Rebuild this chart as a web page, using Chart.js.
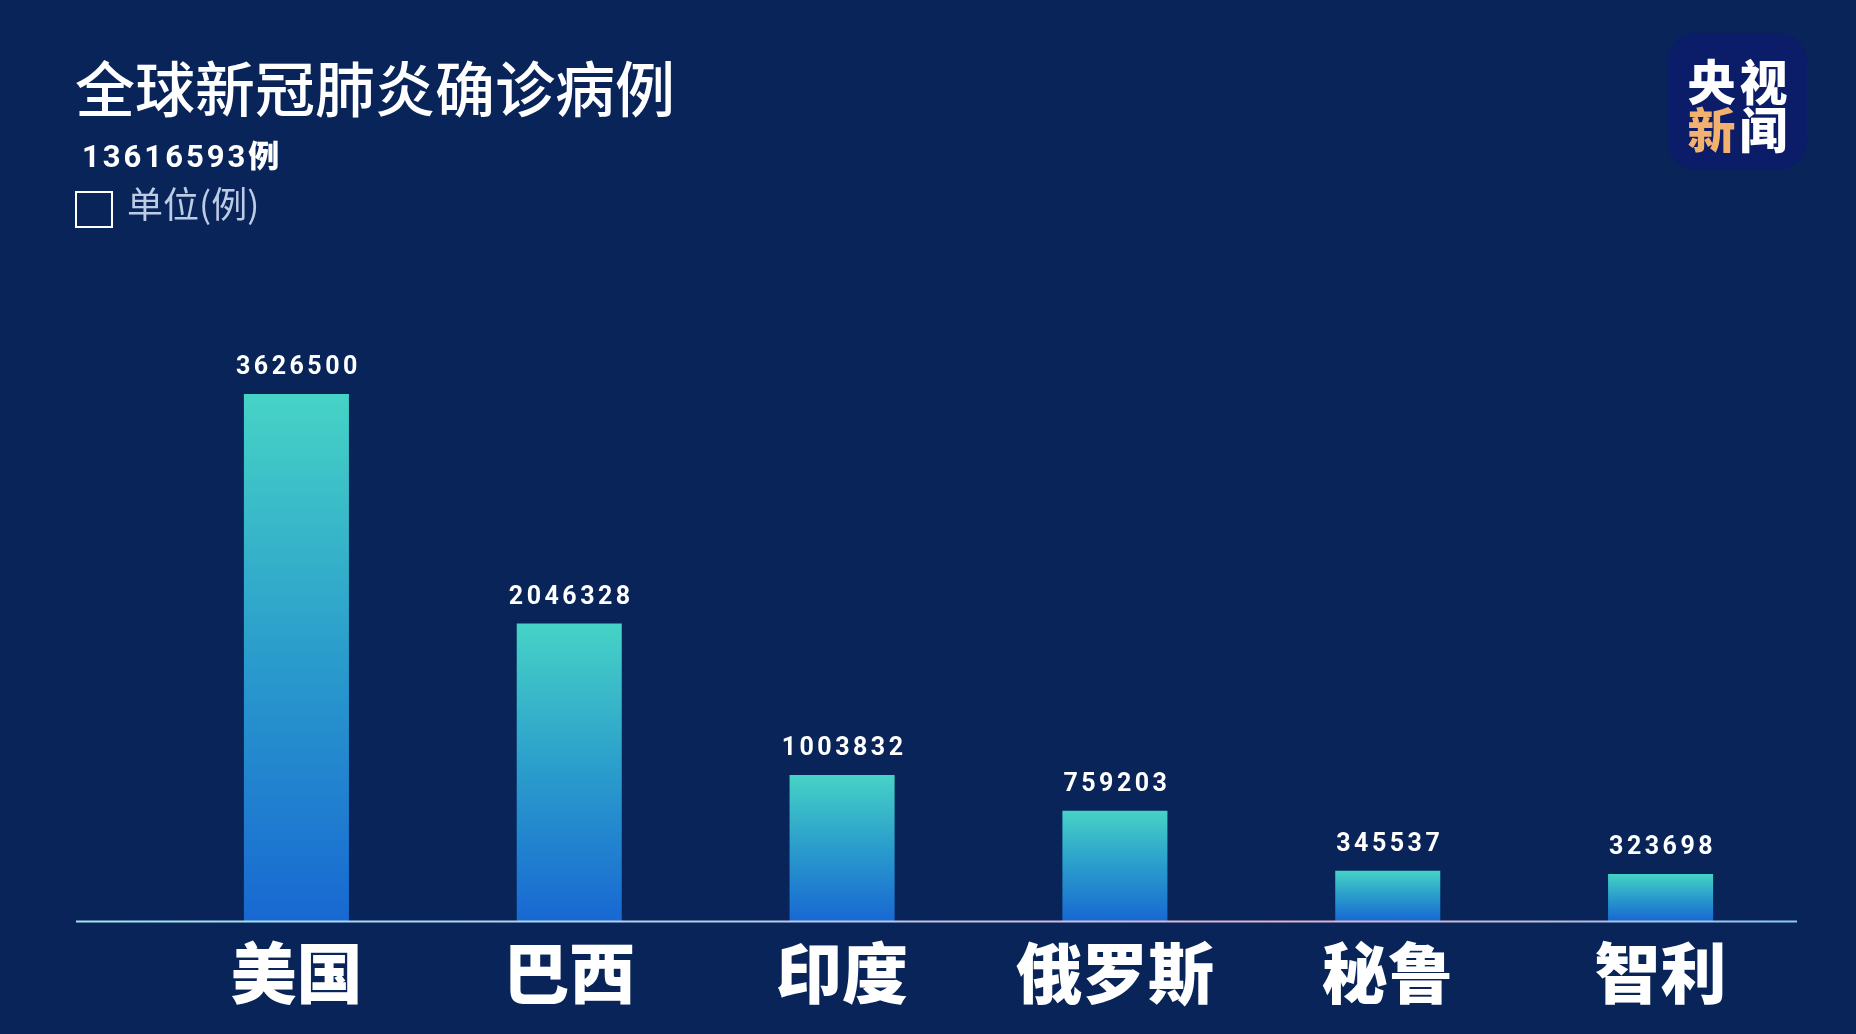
<!DOCTYPE html>
<html>
<head>
<meta charset="utf-8">
<script src="https://cdn.jsdelivr.net/npm/chart.js@4.4.0/dist/chart.umd.js"></script>
<style>
  html, body { margin: 0; padding: 0; background: #082458; }
  #wrap { position: relative; width: 1856px; height: 1034px; overflow: hidden; background: #082458; }
  #chart { position: absolute; left: 0; top: 0; }
  .title { position: absolute; left: 75px; top: 56px; font: 500 60px/1 "Noto Sans CJK SC", sans-serif; color: #ffffff; white-space: nowrap; }
  .total { position: absolute; left: 82px; top: 135px; font: 700 31px/1.2 Roboto, "Noto Sans CJK SC", sans-serif; color: #ffffff; letter-spacing: 3px; white-space: nowrap; }
  .total .cjk { font-family: "Noto Sans CJK SC", sans-serif; font-weight: 900; letter-spacing: 0; }
  .legend-box { position: absolute; left: 75px; top: 191px; width: 34px; height: 33px; border: 2px solid #ffffff; }
  .legend-text { position: absolute; left: 127px; top: 181px; font: 400 36px/1.2 "Noto Sans CJK SC", sans-serif; color: #bccbe6; white-space: nowrap; }
  .logo { position: absolute; left: 1668px; top: 33px; width: 139px; height: 137px; border-radius: 28px; background: #0b1c68; }
  .logo div { position: absolute; left: 0; width: 139px; text-align: center; font: 900 48px/1 "Noto Sans CJK SC", sans-serif; color: #ffffff; letter-spacing: 4px; text-indent: 4px; }
  .logo .r1 { top: 22px; }
  .logo .r2 { top: 70px; }
  .logo .xin { color: #f2b16e; }
</style>
</head>
<body>
<div id="wrap">
  <canvas id="chart" width="1856" height="1034"></canvas>
  <div class="title">全球新冠肺炎确诊病例</div>
  <div class="total"><span id="totalNum"></span><span class="cjk">例</span></div>
  <div class="legend-box"></div>
  <div class="legend-text">单位(例)</div>
  <div class="logo">
    <div class="r1">央视</div>
    <div class="r2"><span class="xin">新</span>闻</div>
  </div>
</div>
<script>
var countries = ['美国', '巴西', '印度', '俄罗斯', '秘鲁', '智利'];
var cases = [3626500, 2046328, 1003832, 759203, 345537, 323698];
var totalCases = 13616593;

document.getElementById('totalNum').textContent = totalCases;

// gradient per bar, teal on top, blue at the bottom
function barGradient(c) {
  var chart = c.chart;
  if (!chart.chartArea) return '#45d2c6';
  var y = chart.scales.y;
  var top = y.getPixelForValue(c.raw);
  var bot = y.getPixelForValue(0);
  var g = chart.ctx.createLinearGradient(0, top, 0, bot);
  g.addColorStop(0, '#46d3c6');
  g.addColorStop(0.5, '#2a9ccc');
  g.addColorStop(1, '#1868d2');
  return g;
}

var valueLabels = {
  id: 'valueLabels',
  afterDatasetsDraw: function(chart) {
    var ctx = chart.ctx;
    var meta = chart.getDatasetMeta(0);
    ctx.save();
    ctx.fillStyle = '#ffffff';
    ctx.font = '700 25px Roboto, sans-serif';
    ctx.letterSpacing = '3.5px';
    ctx.textAlign = 'center';
    ctx.textBaseline = 'alphabetic';
    meta.data.forEach(function(bar, i) {
      ctx.fillText(String(cases[i]), bar.x + 2, bar.y - 20);
    });
    ctx.restore();
  }
};

var baseLine = {
  id: 'baseLine',
  afterDatasetsDraw: function(chart) {
    var ctx = chart.ctx;
    var y = Math.round(chart.scales.y.getPixelForValue(0)) + 0.5;
    var x0 = 76, x1 = chart.chartArea.right;
    var g = ctx.createLinearGradient(x0, 0, x1, 0);
    g.addColorStop(0, '#a6e2f2');
    g.addColorStop(0.45, '#b9c8ee');
    g.addColorStop(0.7, '#e0b4cc');
    g.addColorStop(1, '#90c8f2');
    ctx.save();
    ctx.strokeStyle = g;
    ctx.lineWidth = 2;
    ctx.beginPath();
    ctx.moveTo(x0, y);
    ctx.lineTo(x1, y);
    ctx.stroke();
    ctx.restore();
  }
};

new Chart(document.getElementById('chart'), {
  type: 'bar',
  data: {
    labels: countries,
    datasets: [{
      label: '单位(例)',
      data: cases,
      backgroundColor: barGradient,
      borderWidth: 0,
      categoryPercentage: 1,
      barPercentage: 0.385
    }]
  },
  options: {
    responsive: false,
    animation: false,
    layout: { padding: { left: 160, right: 59, top: 296, bottom: 0 } },
    plugins: {
      legend: { display: false },
      tooltip: { enabled: false }
    },
    scales: {
      x: {
        grid: { display: false },
        border: { display: false },
        afterFit: function(scale) { scale.height = 113; },
        ticks: {
          color: '#ffffff',
          padding: 11,
          font: { family: '"Noto Sans CJK SC", sans-serif', size: 66, weight: 900, lineHeight: 1 }
        }
      },
      y: {
        display: false,
        min: 0,
        max: 4300000
      }
    }
  },
  plugins: [valueLabels, baseLine]
});
</script>
</body>
</html>
